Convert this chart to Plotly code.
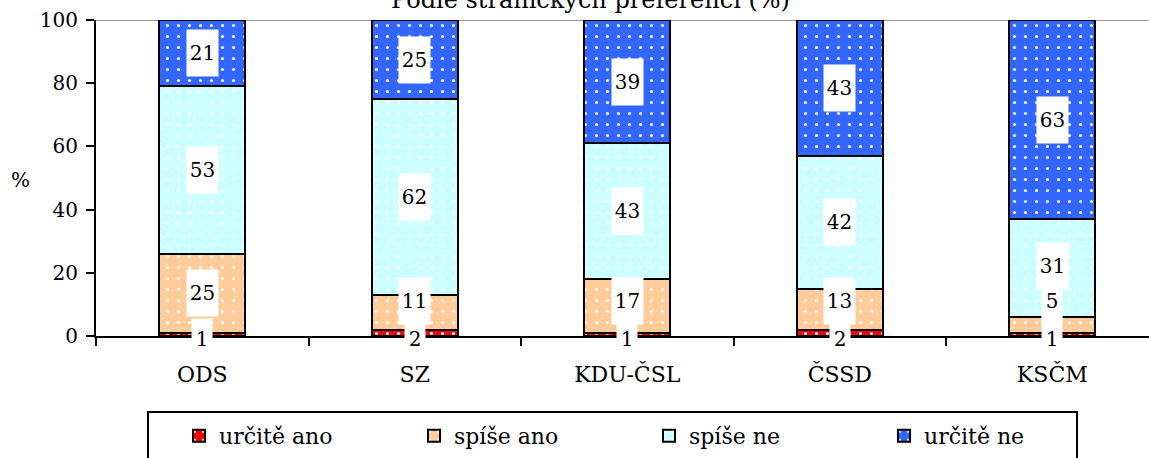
import plotly.graph_objects as go

categories = ["ODS", "SZ", "KDU-ČSL", "ČSSD", "KSČM"]
series_names = ["určitě ano", "spíše ano", "spíše ne", "určitě ne"]
urcite_ano = [1, 2, 1, 2, 1]
spise_ano = [25, 11, 17, 13, 5]
spise_ne = [53, 62, 43, 42, 31]
urcite_ne = [21, 25, 39, 43, 63]
y_ticks = [0, 20, 40, 60, 80, 100]
title_text = "Podle stranických preferencí (%)"

series_values = [urcite_ano, spise_ano, spise_ne, urcite_ne]
colors = ["#FF0000", "#FFCC99", "#CCFFFF", "#3366FF"]
FONT = "DejaVu Serif"
FS = 22
FS_NUM = 20

fig = go.Figure()
for name, vals, col in zip(series_names, series_values, colors):
    fig.add_trace(go.Bar(
        x=categories, y=vals, name=name, width=0.405,
        marker=dict(color=col, line=dict(color="black", width=2),
                    pattern=dict(shape=".", fgcolor="white", bgcolor=col,
                                 size=11, solidity=0.06, fillmode="replace")),
        hoverinfo="skip",
    ))

# data labels: centered in segment, pushed up to avoid overlap
min_gap = 11.0
for ci, cat in enumerate(categories):
    base = 0.0
    prev = None
    for si, vals in enumerate(series_values):
        v = vals[ci]
        if si == 0:
            pos = 0.0
            shift = -3
        else:
            pos = base + v / 2.0
            shift = 0
            if prev is not None and pos - prev < min_gap:
                pos = prev + min_gap
        prev = pos
        base += v
        txt = str(v)
        fig.add_annotation(
            x=cat, y=pos, xref="x", yref="y", text=txt, showarrow=False,
            font=dict(family=FONT, size=FS_NUM, color="black"),
            bgcolor="white", borderpad=0,
            width=11 * len(txt) + 9, height=46 if si > 0 else 40,
            yshift=shift, xanchor="center", yanchor="middle",
        )

# title (mostly cut off at top, as in the original)
fig.add_annotation(text=title_text, xref="paper", yref="paper",
                   x=(590 - 96) / 1053, y=1 + 20 / 316, xanchor="center",
                   yanchor="middle", showarrow=False,
                   font=dict(family=FONT, size=24, color="black"))
# y axis label
fig.add_annotation(text="%", xref="paper", yref="paper",
                   x=(20 - 96) / 1053, y=(336 - 180) / 316, xanchor="center",
                   yanchor="middle", showarrow=False,
                   font=dict(family=FONT, size=20, color="black"))
# top gray border line
fig.add_shape(type="line", xref="paper", yref="y", x0=0, x1=1, y0=100, y1=100,
              line=dict(color="#999999", width=2), layer="below")
# legend frame
fig.add_shape(type="rect", xref="paper", yref="paper",
              x0=(148 - 96) / 1053, x1=(1077 - 96) / 1053,
              y0=-(470 - 336) / 316, y1=-(412 - 336) / 316,
              line=dict(color="black", width=2), fillcolor="rgba(0,0,0,0)")

fig.update_layout(
    barmode="stack",
    width=1149, height=458,
    margin=dict(l=96, r=0, t=20, b=122, autoexpand=False),
    paper_bgcolor="white", plot_bgcolor="white",
    font=dict(family=FONT, size=FS, color="black"),
    showlegend=True,
    legend=dict(orientation="h", x=(179 - 96) / 1053, xanchor="left",
                y=-(415 - 336) / 316, yanchor="top",
                borderwidth=0, bgcolor="rgba(0,0,0,0)",
                font=dict(family=FONT, size=FS, color="black"),
                entrywidth=190, entrywidthmode="pixels",
                traceorder="normal", itemwidth=30),
    xaxis=dict(type="category", range=[-0.5, 4.455], tickson="boundaries",
               ticks="outside", ticklen=8, tickwidth=2, tickcolor="black",
               showline=True, linecolor="black", linewidth=2,
               showgrid=False, zeroline=False, ticklabelstandoff=18,
               tickfont=dict(family=FONT, size=FS)),
    yaxis=dict(range=[0, 100], tickvals=y_ticks, ticks="outside", ticklen=8,
               tickwidth=2, tickcolor="black", showline=True, linecolor="black",
               linewidth=2, showgrid=False, zeroline=False,
               ticklabelstandoff=4, tickfont=dict(family=FONT, size=FS_NUM)),
)

fig.write_html("out.html", config={"displayModeBar": False},
               post_script="document.body.style.margin='0';")
